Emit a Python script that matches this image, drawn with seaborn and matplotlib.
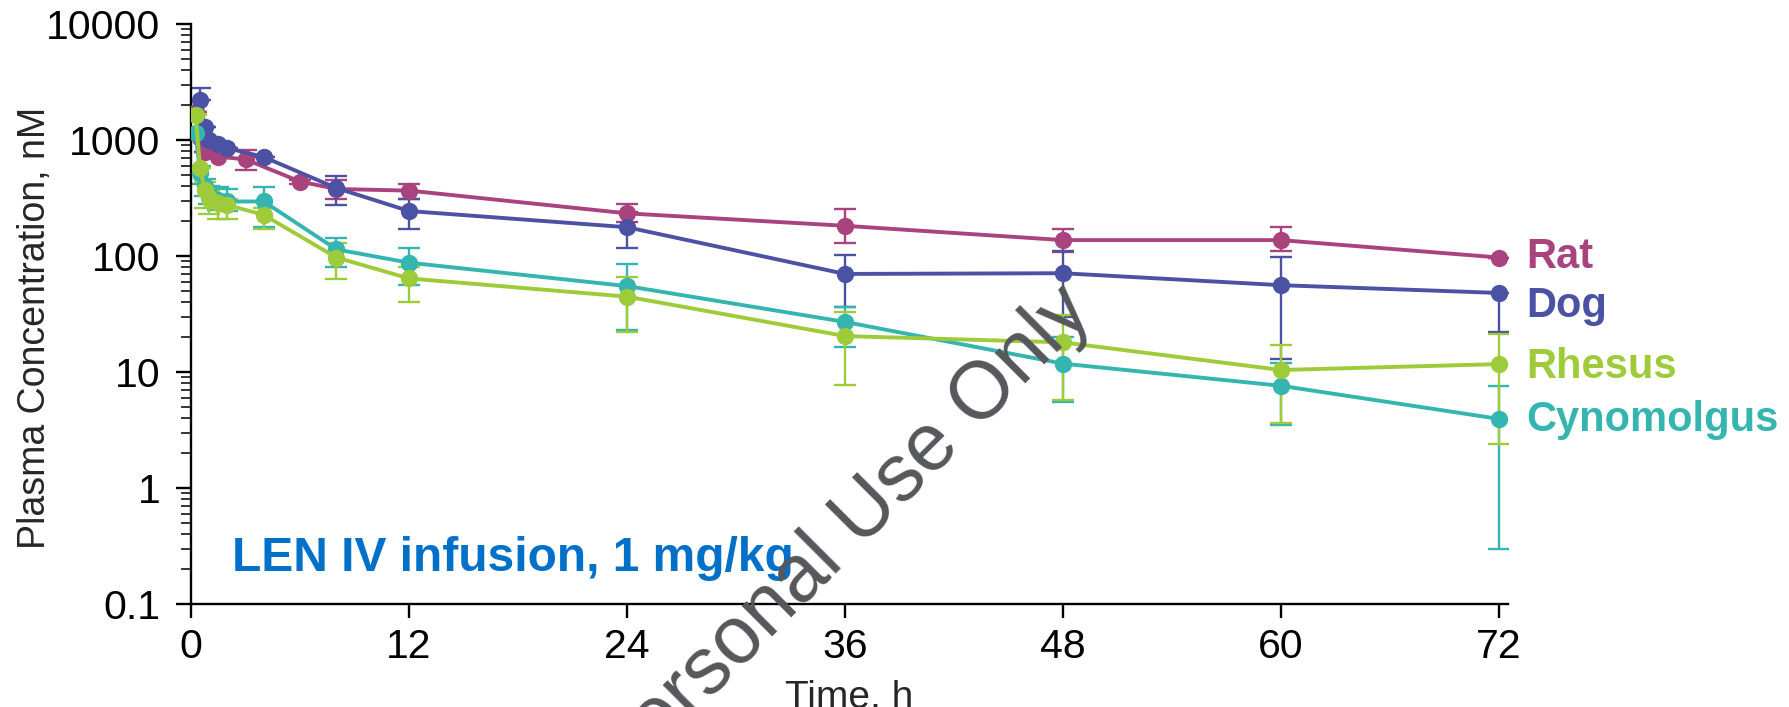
import numpy as np
import pandas as pd
import matplotlib
matplotlib.use("Agg")
import matplotlib.pyplot as plt
import seaborn as sns
from matplotlib.ticker import LogLocator, NullFormatter

# ---------------- data ----------------
species = ["Rat", "Dog", "Cynomolgus", "Rhesus"]

rat_t = [0.25, 0.5, 0.75, 1.5, 3, 6, 8, 12, 24, 36, 48, 60, 72]
rat_mean = [1750, 1050, 795, 718, 680, 438, 378, 366, 233, 182, 137, 137, 97]
rat_low = [1750, 1050, 795, 718, 551, 420, 308, 309, 195, 129, 109, 110, 97]
rat_high = [1750, 1050, 795, 718, 820, 455, 452, 420, 280, 255, 170, 177, 97]

dog_t = [0.5, 0.75, 1, 1.5, 2, 4, 8, 12, 24, 36, 48, 60, 72]
dog_mean = [2215, 1300, 1000, 920, 850, 713, 385, 244, 177, 70, 71, 56, 48]
dog_low = [2215, 1300, 1000, 920, 850, 713, 275, 170, 116, 36.6, 29.6, 12.9, 22]
dog_high = [2790, 1300, 1000, 920, 850, 713, 490, 309, 240, 102, 111, 97.5, 48]

nhp_t = [0.25, 0.5, 0.75, 1, 1.5, 2, 4, 8, 12, 24, 36, 48, 60, 72]
rhe_mean = [1650, 570, 370, 315, 285, 275, 226, 97, 64, 44.6, 20.4, 18, 10.4, 11.7]
rhe_low = [1650, 570, 260, 230, 210, 210, 170, 63, 40, 22, 7.7, 5.7, 3.6, 2.4]
rhe_high = [1650, 570, 430, 360, 330, 310, 260, 129, 80, 66, 33, 31, 17.2, 21.2]

cyn_mean = [1140, 517, 400, 340, 304, 295, 295, 114, 87.5, 55, 27, 11.8, 7.6, 3.94]
cyn_low = [1140, 420, 330, 280, 250, 245, 178, 80, 56, 23, 16.3, 5.5, 3.5, 0.30]
cyn_high = [1140, 600, 460, 400, 396, 380, 396, 142, 118, 85, 36.6, 20, 12, 7.6]

x_ticks = [0, 12, 24, 36, 48, 60, 72]
y_ticks = [0.1, 1, 10, 100, 1000, 10000]
y_ticklabels = ["0.1", "1", "10", "100", "1000", "10000"]

series = {
    "Rat": (rat_t, rat_mean, rat_low, rat_high),
    "Dog": (dog_t, dog_mean, dog_low, dog_high),
    "Cynomolgus": (nhp_t, cyn_mean, cyn_low, cyn_high),
    "Rhesus": (nhp_t, rhe_mean, rhe_low, rhe_high),
}

colors = {"Rat": "#A8437E", "Dog": "#4B51A3", "Rhesus": "#9ECB3A", "Cynomolgus": "#35B5AF"}

rows = []
for sp, (t, m, lo, hi) in series.items():
    for ti, mi in zip(t, m):
        rows.append({"Species": sp, "Time": ti, "Conc": mi})
df = pd.DataFrame(rows)

# ---------------- plot ----------------
sns.set_style("ticks")
plt.rcParams["font.family"] = ["Liberation Sans", "DejaVu Sans"]

fig = plt.figure(figsize=(17.89, 7.07), dpi=100)
ax = fig.add_axes([0.1068, 0.1457, 0.7362, 0.8204])

for sp in species:
    t, m, lo, hi = series[sp]
    m = np.array(m, float)
    err = np.vstack([m - np.array(lo, float), np.array(hi, float) - m])
    ax.errorbar(t, m, yerr=err, fmt="none", ecolor=colors[sp], elinewidth=1.7,
                capsize=8, capthick=1.7, zorder=2)
    sns.lineplot(data=df[df["Species"] == sp], x="Time", y="Conc", color=colors[sp],
                 marker="o", markersize=12.5, markeredgewidth=0, linewidth=2.8,
                 errorbar=None, ax=ax, zorder=3, legend=False)

ax.set_yscale("log")
ax.set_ylim(0.1, 10000)
ax.set_xlim(0, 72.5)
ax.set_xticks(x_ticks)
ax.set_yticks(y_ticks)
ax.set_yticklabels(y_ticklabels)
ax.yaxis.set_minor_locator(LogLocator(base=10, subs=np.arange(2, 10)))
ax.yaxis.set_minor_formatter(NullFormatter())

for s in ["top", "right"]:
    ax.spines[s].set_visible(False)
for s in ["left", "bottom"]:
    ax.spines[s].set_linewidth(1.7)
    ax.spines[s].set_color("black")

ax.tick_params(axis="y", which="major", length=11, width=1.7, labelsize=29.5, pad=11, colors="black")
ax.tick_params(axis="y", which="minor", length=7, width=1.3)
ax.tick_params(axis="x", which="major", length=10, width=1.7, labelsize=29.5, pad=7.5, colors="black")

ax.set_xlabel("Time, h", fontsize=28, labelpad=10)
ax.set_ylabel("Plasma Concentration, nM", fontsize=27)
ax.yaxis.set_label_coords(-0.105, 0.476)

# species labels at line ends
label_pos = {"Rat": 97.5, "Dog": 37, "Rhesus": 11.1, "Cynomolgus": 3.86}
for sp, yv in label_pos.items():
    ax.text(73.48, yv, sp, color=colors[sp], fontsize=30, fontweight="bold",
            ha="left", va="center", clip_on=False)

ax.text(2.26, 0.245, "LEN IV infusion, 1 mg/kg", color="#0070C8", fontsize=34.5,
        fontweight="bold", ha="left", va="center")

# watermark
fig.text(1095 / 1789, 1 - 314 / 707, "For Personal Use Only", color="#55575B", fontsize=58,
         rotation=45, rotation_mode="anchor", ha="right", va="baseline", zorder=10)

fig.savefig("out.png", dpi=100)
